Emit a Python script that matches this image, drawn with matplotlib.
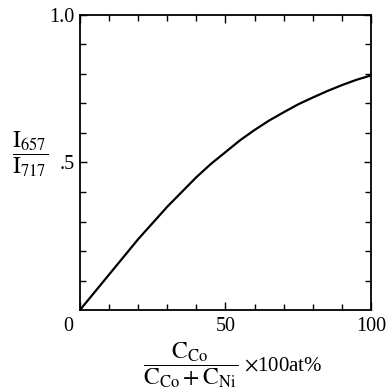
import matplotlib
matplotlib.use("Agg")
import matplotlib.pyplot as plt
import matplotlib.transforms as mtransforms

plt.rcParams['font.family'] = ['Liberation Serif', 'DejaVu Serif']
plt.rcParams['mathtext.fontset'] = 'stix'

# values
co_fraction = [0, 5, 10, 15, 20, 25, 30, 35, 40, 45, 50,
               55, 60, 65, 70, 75, 80, 85, 90, 95, 100]
intensity_ratio = [0, 0.06, 0.12, 0.18, 0.24, 0.295, 0.35, 0.40, 0.45, 0.495, 0.535,
                   0.575, 0.61, 0.642, 0.67, 0.697, 0.72, 0.742, 0.762, 0.78, 0.795]

x_major = [0, 50, 100]
x_major_labels = ['0', '50', '100']
y_major = [0.5, 1.0]
y_major_labels = ['.5', '1.0']

fig = plt.figure(figsize=(3.86, 3.92), dpi=100)
ax = fig.add_axes([0.207, 0.209, 0.754, 0.753])

ax.plot(co_fraction, intensity_ratio, color='black', linewidth=1.6,
        solid_joinstyle='round')

ax.set_xlim(0, 100)
ax.set_ylim(0, 1.0)

ax.set_xticks(x_major)
ax.set_xticklabels(x_major_labels)
ax.set_xticks(range(10, 100, 10), minor=True)
ax.set_yticks(y_major)
ax.set_yticklabels(y_major_labels)
ax.set_yticks([0.1, 0.2, 0.3, 0.4, 0.6, 0.7, 0.8, 0.9], minor=True)

ax.tick_params(which='both', direction='in', top=True, right=True,
               width=1.0, colors='black', labelsize=14.5)
ax.tick_params(which='major', length=6, pad=5)
ax.tick_params(which='minor', length=4)
ax.tick_params(axis='y', which='major', length=5, pad=4)

for spine in ax.spines.values():
    spine.set_linewidth(1.3)

# origin label sits left of the corner
xlabels = ax.get_xticklabels()
xlabels[0].set_horizontalalignment('right')
xlabels[0].set_transform(xlabels[0].get_transform() +
                         mtransforms.ScaledTranslation(-0.07, 0, fig.dpi_scale_trans))

fig.text(0.078, 0.608, r'$\dfrac{\mathrm{I}_{657}}{\mathrm{I}_{717}}$',
         fontsize=17, ha='center', va='center')

fig.text(0.493, 0.068, r'$\dfrac{\mathrm{C}_{\mathrm{Co}}}{\mathrm{C}_{\mathrm{Co}}+\mathrm{C}_{\mathrm{Ni}}}$',
         fontsize=17, ha='center', va='center')
fig.text(0.632, 0.064, r'$\times$100at%', fontsize=15, ha='left', va='center')

fig.savefig('out.png', dpi=100)
